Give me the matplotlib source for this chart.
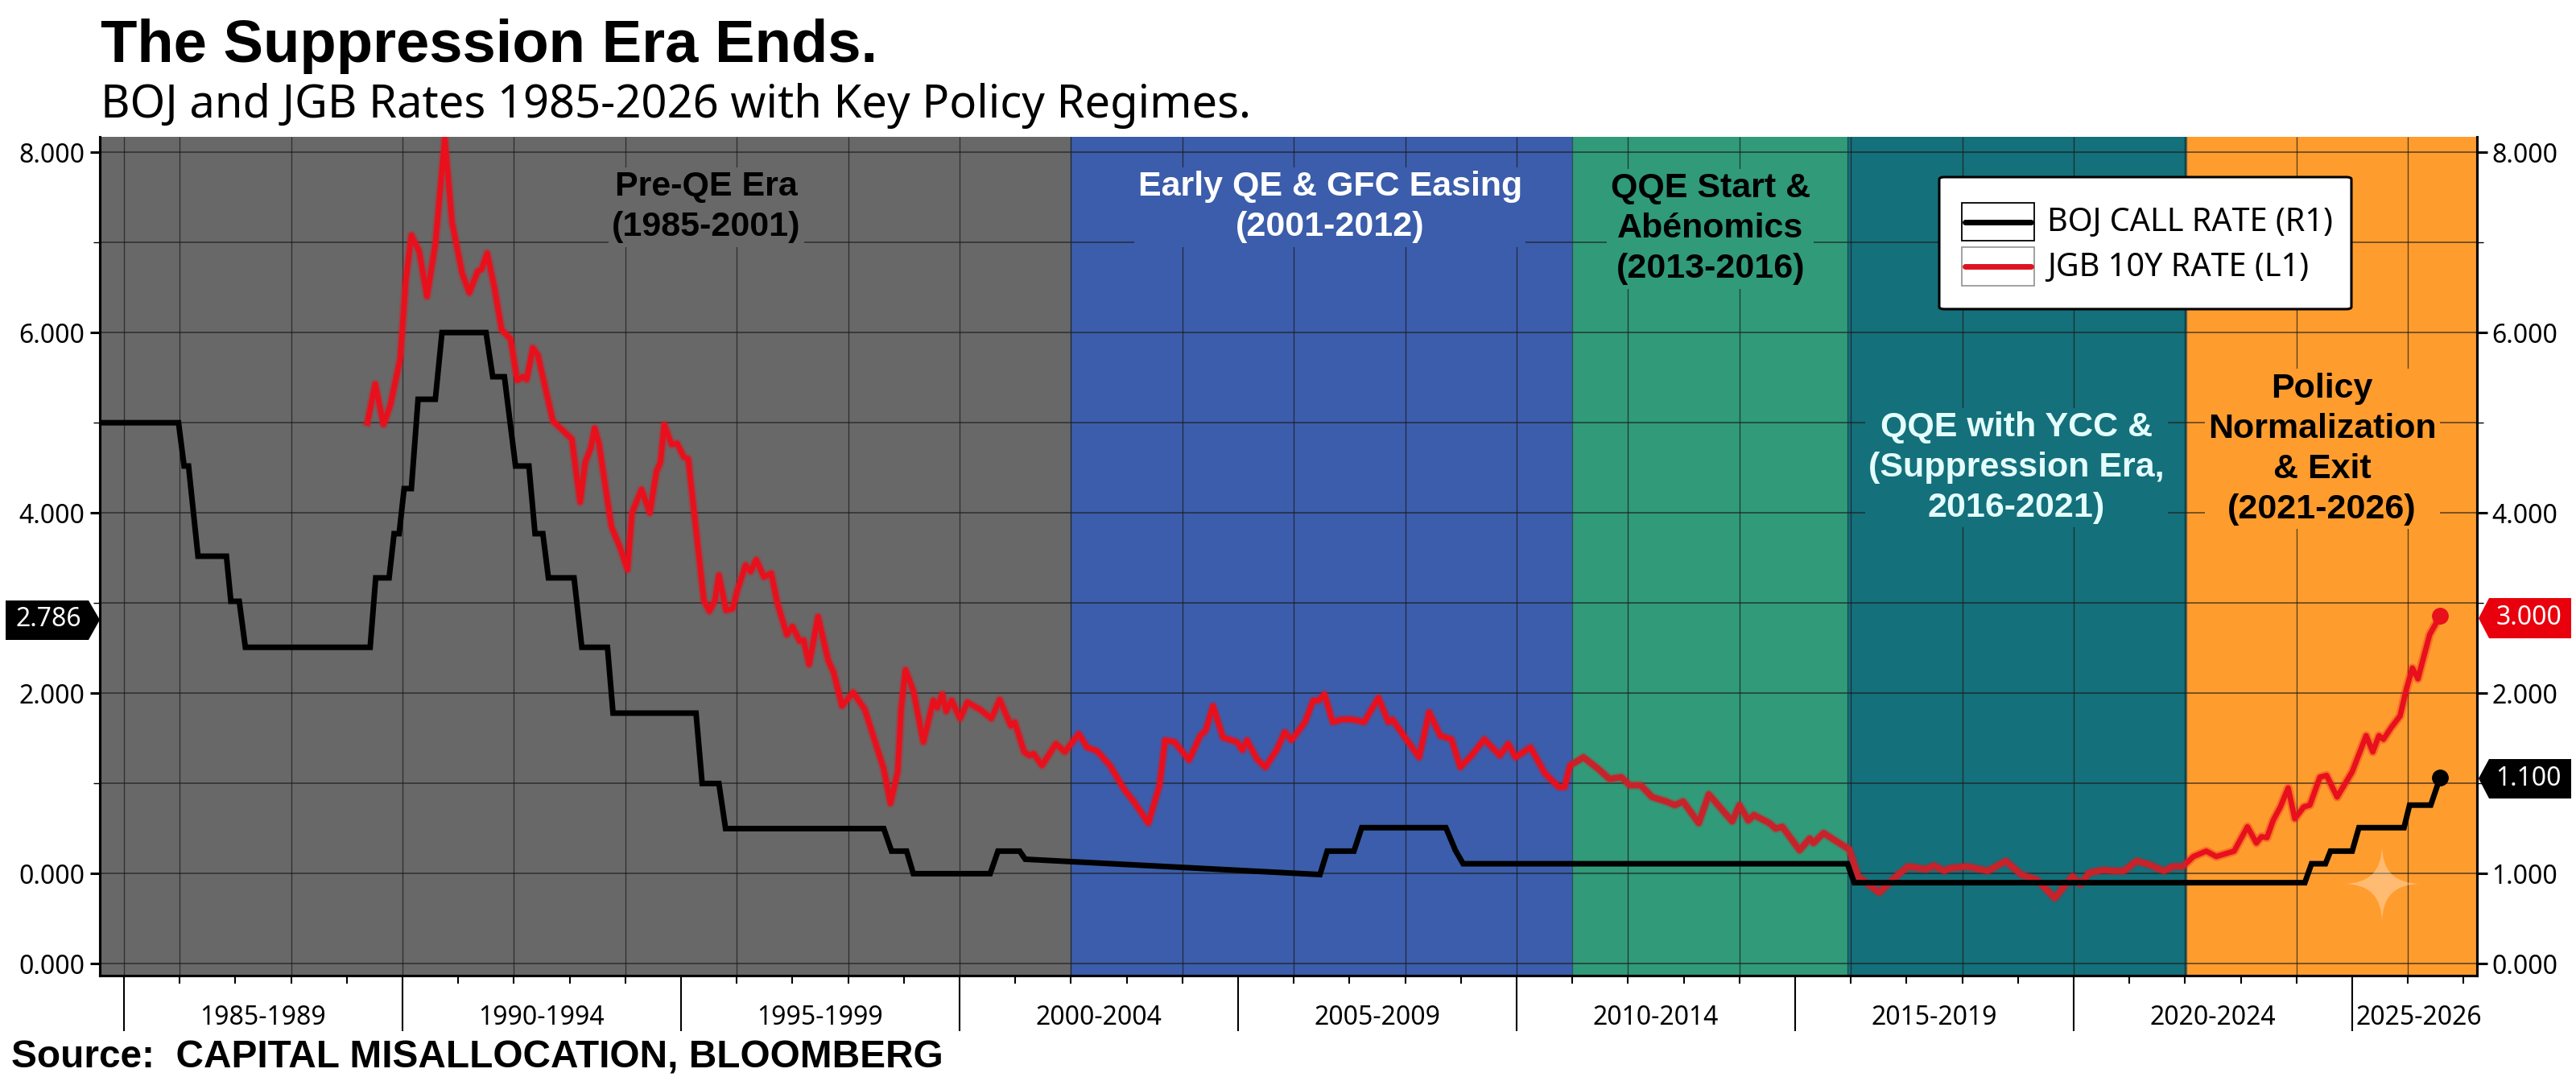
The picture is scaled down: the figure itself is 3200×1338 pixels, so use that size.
#!/usr/bin/env python3
# -*- coding: utf-8 -*-
import matplotlib
matplotlib.use('Agg')
import matplotlib.pyplot as plt
import matplotlib.patheffects as pe
from matplotlib.lines import Line2D
from matplotlib.patches import Rectangle, Polygon, FancyBboxPatch, PathPatch
from matplotlib.path import Path

plt.rcParams['font.family'] = ['Noto Sans', 'DejaVu Sans']
BOLD = ['Liberation Sans', 'DejaVu Sans']  # this Noto Sans has no bold face

#%% data
boj_x = [1984.56, 1985.98, 1986.08, 1986.16, 1986.33, 1986.84, 1986.92, 1987.07, 1987.18, 1989.42,
         1989.52, 1989.76, 1989.85, 1989.94, 1990.03, 1990.16, 1990.28, 1990.59, 1990.71, 1991.5,
         1991.62, 1991.83, 1992.03, 1992.27, 1992.38, 1992.52, 1992.62, 1993.08, 1993.22, 1993.68,
         1993.78, 1995.27, 1995.38, 1995.68, 1995.8, 1998.64, 1998.78, 1999.05, 1999.17, 2000.55,
         2000.69, 2001.08, 2001.18, 2006.47, 2006.6, 2007.08, 2007.22, 2008.73, 2008.86, 2008.9,
         2009.04, 2015.94, 2016.06, 2024.15, 2024.27, 2024.52, 2024.61, 2025.0, 2025.12, 2025.93,
         2026.03, 2026.41, 2026.58]
boj_y = [5.0, 5.0, 4.52, 4.52, 3.52, 3.52, 3.02, 3.02, 2.51, 2.51,
         3.28, 3.28, 3.77, 3.77, 4.27, 4.27, 5.26, 5.26, 6.0, 6.0,
         5.51, 5.51, 4.52, 4.52, 3.77, 3.77, 3.28, 3.28, 2.51, 2.51,
         1.78, 1.78, 1.0, 1.0, 0.5, 0.5, 0.25, 0.25, 0.0, 0.0,
         0.25, 0.25, 0.16, -0.01, 0.25, 0.25, 0.51, 0.51, 0.32, 0.26,
         0.11, 0.11, -0.1, -0.1, 0.11, 0.11, 0.25, 0.25, 0.51, 0.51,
         0.76, 0.76, 1.07]

jgb_x = [1989.37, 1989.51, 1989.66, 1989.78, 1989.96, 1990.06, 1990.16, 1990.3, 1990.44, 1990.59,
         1990.76, 1990.89, 1991.07, 1991.2, 1991.35, 1991.42, 1991.52, 1991.65, 1991.78, 1991.94,
         1992.06, 1992.16, 1992.23, 1992.34, 1992.43, 1992.7, 1992.97, 1993.04, 1993.19, 1993.28,
         1993.38, 1993.45, 1993.53, 1993.75, 1993.91, 1994.04, 1994.12, 1994.29, 1994.44, 1994.56,
         1994.63, 1994.7, 1994.83, 1994.93, 1995.05, 1995.13, 1995.3, 1995.41, 1995.51, 1995.61,
         1995.68, 1995.81, 1995.93, 1996.01, 1996.16, 1996.25, 1996.35, 1996.49, 1996.62, 1996.73,
         1996.9, 1997.0, 1997.13, 1997.2, 1997.3, 1997.46, 1997.64, 1997.74, 1997.89, 1998.09,
         1998.3, 1998.64, 1998.76, 1998.89, 1998.95, 1999.03, 1999.17, 1999.35, 1999.53, 1999.6,
         1999.69, 1999.76, 1999.86, 2000.01, 2000.14, 2000.37, 2000.57, 2000.72, 2000.92, 2000.99,
         2001.16, 2001.26, 2001.33, 2001.48, 2001.73, 2001.89, 2002.14, 2002.29, 2002.47, 2002.7,
         2002.95, 2003.15, 2003.39, 2003.59, 2003.69, 2003.86, 2004.12, 2004.32, 2004.42, 2004.55,
         2004.73, 2004.98, 2005.08, 2005.16, 2005.34, 2005.49, 2005.69, 2005.84, 2005.96, 2006.2,
         2006.35, 2006.45, 2006.55, 2006.7, 2006.86, 2007.06, 2007.26, 2007.52, 2007.7, 2007.77,
         2008.02, 2008.25, 2008.43, 2008.63, 2008.83, 2008.99, 2009.19, 2009.42, 2009.7, 2009.85,
         2009.98, 2010.25, 2010.51, 2010.76, 2010.86, 2010.96, 2011.2, 2011.47, 2011.67, 2011.88,
         2012.03, 2012.23, 2012.43, 2012.69, 2012.84, 2012.99, 2013.27, 2013.45, 2013.7, 2013.87,
         2014.0, 2014.16, 2014.26, 2014.54, 2014.65, 2014.77, 2015.08, 2015.26, 2015.33, 2015.51,
         2015.74, 2015.97, 2016.13, 2016.51, 2016.85, 2017.03, 2017.35, 2017.49, 2017.68, 2017.77,
         2018.09, 2018.46, 2018.78, 2019.06, 2019.34, 2019.66, 2019.98, 2020.12, 2020.28, 2020.53,
         2020.72, 2020.9, 2021.13, 2021.36, 2021.62, 2021.78, 2021.96, 2022.15, 2022.38, 2022.56,
         2022.88, 2023.12, 2023.28, 2023.37, 2023.47, 2023.58, 2023.71, 2023.85, 2023.97, 2024.13,
         2024.24, 2024.42, 2024.54, 2024.73, 2025.0, 2025.25, 2025.37, 2025.48, 2025.56, 2025.7,
         2025.86, 2025.97, 2026.08, 2026.18, 2026.27, 2026.39, 2026.58]
jgb_y = [5.0, 5.43, 4.98, 5.19, 5.71, 6.58, 7.08, 6.9, 6.4, 6.98,
         8.15, 7.22, 6.66, 6.44, 6.68, 6.7, 6.88, 6.5, 6.03, 5.93,
         5.47, 5.51, 5.48, 5.83, 5.75, 5.02, 4.86, 4.82, 4.12, 4.56,
         4.72, 4.94, 4.76, 3.85, 3.61, 3.37, 4.0, 4.26, 4.0, 4.46,
         4.56, 4.98, 4.76, 4.77, 4.62, 4.6, 3.65, 3.03, 2.91, 3.03,
         3.31, 2.92, 2.94, 3.14, 3.42, 3.35, 3.48, 3.29, 3.33, 3.0,
         2.65, 2.74, 2.58, 2.59, 2.32, 2.85, 2.37, 2.23, 1.86, 2.01,
         1.82, 1.16, 0.78, 1.13, 1.82, 2.26, 2.03, 1.46, 1.92, 1.84,
         1.99, 1.8, 1.92, 1.72, 1.9, 1.82, 1.72, 1.93, 1.64, 1.68,
         1.35, 1.31, 1.33, 1.2, 1.44, 1.35, 1.55, 1.4, 1.36, 1.2,
         0.94, 0.78, 0.56, 0.98, 1.48, 1.46, 1.26, 1.53, 1.59, 1.86,
         1.51, 1.46, 1.37, 1.48, 1.27, 1.18, 1.37, 1.57, 1.48, 1.68,
         1.92, 1.92, 1.99, 1.68, 1.71, 1.71, 1.68, 1.95, 1.68, 1.71,
         1.49, 1.29, 1.79, 1.53, 1.49, 1.18, 1.31, 1.49, 1.31, 1.44,
         1.29, 1.4, 1.11, 0.96, 0.96, 1.2, 1.29, 1.16, 1.05, 1.07,
         0.98, 0.98, 0.85, 0.8, 0.76, 0.8, 0.56, 0.88, 0.7, 0.58,
         0.76, 0.59, 0.65, 0.56, 0.5, 0.52, 0.26, 0.39, 0.34, 0.45,
         0.36, 0.27, -0.03, -0.21, -0.01, 0.08, 0.05, 0.09, 0.03, 0.06,
         0.08, 0.03, 0.14, -0.01, -0.07, -0.27, -0.03, -0.12, 0.01, 0.04,
         0.03, 0.03, 0.14, 0.1, 0.03, 0.08, 0.08, 0.19, 0.25, 0.19,
         0.25, 0.52, 0.34, 0.41, 0.4, 0.59, 0.74, 0.95, 0.61, 0.74,
         0.76, 1.07, 1.09, 0.85, 1.13, 1.53, 1.35, 1.53, 1.49, 1.62,
         1.75, 2.04, 2.28, 2.16, 2.37, 2.65, 2.86]

# regimes: start year, end year, colour
regime_edges = [1984.56, 2002.0, 2011.0, 2015.94, 2022.03, 2027.24]
regime_colors = ['#686868', '#3b5dab', '#309a79', '#14707a', '#ff9c2e']
regime_labels = ['Pre-QE Era\n(1985-2001)', 'Early QE & GFC Easing\n(2001-2012)',
                 'QQE Start &\nAbénomics\n(2013-2016)', 'QQE with YCC &\n(Suppression Era,\n2016-2021)',
                 'Policy\nNormalization\n& Exit\n(2021-2026)']
regime_label_x = [1995.45, 2006.65, 2013.48, 2018.97, 2024.46]
regime_label_y = [7.39, 7.39, 7.15, 4.5, 4.71]
regime_text = ['black', 'white', 'black', '#e4fdfd', 'black']

period_labels = ['1985-1989', '1990-1994', '1995-1999', '2000-2004', '2005-2009',
                 '2010-2014', '2015-2019', '2020-2024', '2025-2026']
period_edges = [1985, 1990, 1995, 2000, 2005, 2010, 2015, 2020, 2025]
period_centers = [1987.5, 1992.5, 1997.5, 2002.5, 2007.5, 2012.5, 2017.5, 2022.5, 2026.2]

year_ticks = list(range(1985, 2028))
grid_years = [1985, 1986] + list(range(1988, 2028, 2))
y_major = [8, 6, 4, 2, 0, -1]
y_minor = [7, 5, 3, 1]
left_labels = ['8.000', '6.000', '4.000', '2.000', '0.000', '0.000']
right_labels = ['8.000', '6.000', '4.000', '2.000', '1.000', '0.000']

#%% figure
W, H = 3200, 1338
fig = plt.figure(figsize=(W / 100, H / 100), dpi=100, facecolor='white')
L, R, T, B = 123.5, 3077, 170, 1212
ax = fig.add_axes([L / W, 1 - B / H, (R - L) / W, (B - T) / H])


def px(x, y):
    # figure pixels, y counted from the top
    return x / W, 1 - y / H


ax.set_xlim(1984.56, 2027.24)
ax.set_ylim(-1.13, 8.17)

for i in range(5):
    ax.axvspan(regime_edges[i], regime_edges[i + 1], color=regime_colors[i], lw=0, zorder=0)

for y in y_major + y_minor:
    ax.axhline(y, color='#1a1a1a', lw=1.1, alpha=0.75, zorder=1)
ax.vlines(grid_years, -1.13, 8.17, color='#1a1a1a', lw=0.9, alpha=0.75, zorder=1)
for e in regime_edges[1:-1]:
    ax.axvline(e, color='#1a2a3a', lw=0.9, alpha=0.6, zorder=1)

# red with a soft edge, black goes over it
ax.plot(jgb_x, jgb_y, color='#e8101c', lw=4.8, solid_joinstyle='round', zorder=3,
        path_effects=[pe.Stroke(linewidth=8, foreground='#e8101c', alpha=0.3), pe.Normal()])
# the red reads darker on the green and teal parts
dark, = ax.plot(jgb_x, jgb_y, color='#c8222a', lw=5.2, solid_joinstyle='round', zorder=3.1)
dark.set_clip_path(Rectangle((regime_edges[2], -2), regime_edges[4] - regime_edges[2], 12, transform=ax.transData))
ax.plot(boj_x, boj_y, color='black', lw=5, solid_joinstyle='miter', zorder=4)
ax.plot(jgb_x[-1], jgb_y[-1], 'o', color='#e8101c', ms=14, zorder=5, clip_on=False)
ax.plot(boj_x[-1], boj_y[-1], 'o', color='black', ms=14, zorder=5, clip_on=False)

for i in range(5):
    ax.text(regime_label_x[i], regime_label_y[i], regime_labels[i], color=regime_text[i],
            family=BOLD, fontsize=31, fontweight='bold', ha='center', va='center', linespacing=1.32, zorder=6,
            bbox=dict(facecolor=regime_colors[i], edgecolor='none', pad=3))

#%% axes furniture
ax.set_yticks(y_major)
ax.set_yticklabels(left_labels, fontsize=23)
ax.set_yticks(y_minor, minor=True)
ax.tick_params(axis='y', which='major', length=9, width=2.2, pad=4)
ax.tick_params(axis='y', which='minor', length=6, width=1)

ax.set_xticks(period_edges)
ax.set_xticklabels([])
ax.set_xticks(year_ticks, minor=True)
ax.tick_params(axis='x', which='major', length=50, width=1.5)
ax.tick_params(axis='x', which='minor', length=7, width=1.5)
for c, lab in zip(period_centers, period_labels):
    ax.annotate(lab, xy=(c, 0), xycoords=('data', 'axes fraction'), xytext=(0, -38),
                textcoords='offset points', ha='center', va='center', fontsize=23)

axr = ax.twinx()
axr.set_ylim(ax.get_ylim())
axr.set_yticks(y_major)
axr.set_yticklabels(right_labels, fontsize=23)
axr.set_yticks(y_minor, minor=True)
axr.tick_params(axis='y', which='major', length=9, width=2.2, pad=4)
axr.tick_params(axis='y', which='minor', length=6, width=1)
axr.patch.set_visible(False)

for a in (ax, axr):
    a.spines['top'].set_visible(False)
    for s in ('left', 'right', 'bottom'):
        a.spines[s].set_linewidth(2.2)

#%% value tags
tr = fig.transFigure
tags = [([(7, 746), (110, 746), (124, 770), (110, 795), (7, 795)], 'black', '2.786', 60, 770),
        ([(3079, 768), (3092, 743), (3194, 743), (3194, 793), (3092, 793)], '#e8000d', '3.000', 3141, 768),
        ([(3079, 967), (3092, 943), (3194, 943), (3194, 992), (3092, 992)], 'black', '1.100', 3141, 967)]
for pts, col, lab, tx, ty in tags:
    fig.add_artist(Polygon([px(*p) for p in pts], closed=True, facecolor=col, edgecolor='none', transform=tr))
    fig.text(*px(tx, ty), lab, color='white', fontsize=23, ha='center', va='center')

#%% legend, built by hand because of the boxes round the line samples
x0, y0 = px(2409, 384)
x1, y1 = px(2921, 220)
fig.add_artist(FancyBboxPatch((x0, y0), x1 - x0, y1 - y0, boxstyle='round,pad=0,rounding_size=0.002',
                              facecolor='white', edgecolor='black', lw=2.2, transform=tr, zorder=7))
legend_rows = [('BOJ CALL RATE (R1)', 'black', 'black', 252, 299),
               ('JGB 10Y RATE (L1)', '#dd1420', '#9a9a9a', 307, 355)]
for lab, col, edge, ya, yb in legend_rows:
    bx, by = px(2437, yb)
    bx2, by2 = px(2527, ya)
    fig.add_artist(Rectangle((bx, by), bx2 - bx, by2 - by, facecolor='white', edgecolor=edge, lw=1.3,
                             transform=tr, zorder=8))
    lx0, ly = px(2441, (ya + yb) / 2)
    lx1, _ = px(2523, 0)
    fig.add_artist(Line2D([lx0, lx1], [ly, ly], color=col, lw=5, transform=tr, zorder=9, solid_capstyle='round'))
    fig.text(*px(2543, (ya + yb) / 2 + 2), lab, fontsize=28.5, ha='left', va='center', zorder=9)

#%% watermark star
cx, cy, s = 2959, 1098, 48
star_px = [(cx, cy - s), (cx, cy), (cx + s, cy), (cx, cy), (cx, cy + s), (cx, cy), (cx - s, cy), (cx, cy), (cx, cy - s)]
codes = [Path.MOVETO] + [Path.CURVE3] * 8
fig.add_artist(PathPatch(Path([px(*p) for p in star_px], codes), facecolor='white', edgecolor='none',
                         alpha=0.32, transform=tr, zorder=6))

#%% titles
fig.text(*px(125, 58), 'The Suppression Era Ends.', family=BOLD, fontsize=53.5, fontweight='bold', ha='left', va='center')
fig.text(*px(125, 132), 'BOJ and JGB Rates 1985-2026 with Key Policy Regimes.', fontsize=40.4, ha='left', va='center')
fig.text(*px(14, 1314), 'Source:  CAPITAL MISALLOCATION, BLOOMBERG', family=BOLD, fontsize=34.4, fontweight='bold',
         ha='left', va='center')

fig.savefig('out.png', dpi=100)
